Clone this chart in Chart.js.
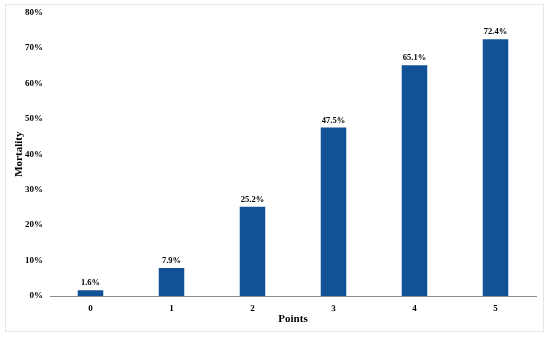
<!DOCTYPE html>
<html>
<head>
<meta charset="utf-8">
<script src="https://cdn.jsdelivr.net/npm/chart.js@4"></script>
<style>
html,body{margin:0;padding:0;background:#fff;}
#wrap{width:550px;height:337px;position:relative;}
</style>
</head>
<body>
<div id="wrap"><canvas id="c" width="550" height="337"></canvas></div>
<script>
const categories = ['0','1','2','3','4','5'];
const mortality = [1.6, 7.9, 25.2, 47.5, 65.1, 72.4];
const yTicks = [0,10,20,30,40,50,60,70,80];

const FONT = '"Liberation Serif", "Times New Roman", serif';

const borderPlugin = {
  id: 'frame',
  beforeDraw(chart){
    const ctx = chart.ctx;
    ctx.save();
    ctx.fillStyle = '#fff';
    ctx.fillRect(0,0,chart.width,chart.height);
    ctx.strokeStyle = '#e6e6e6';
    ctx.lineWidth = 1;
    ctx.strokeRect(5.5, 4.5, 538, 327);
    ctx.restore();
  }
};

const labelPlugin = {
  id: 'vals',
  afterDatasetsDraw(chart){
    const ctx = chart.ctx;
    const meta = chart.getDatasetMeta(0);
    ctx.save();
    ctx.font = 'bold 8.5px ' + FONT;
    ctx.fillStyle = '#000';
    ctx.textAlign = 'center';
    ctx.textBaseline = 'bottom';
    meta.data.forEach((bar, i) => {
      ctx.fillText(mortality[i].toFixed(1) + '%', bar.x, bar.y - 3);
    });
    ctx.restore();
  }
};

new Chart(document.getElementById('c'), {
  type: 'bar',
  data: {
    labels: categories,
    datasets: [{
      data: mortality,
      backgroundColor: '#115297',
      borderWidth: 0,
      barPercentage: 0.63,
      categoryPercentage: 0.5
    }]
  },
  options: {
    responsive: false,
    animation: false,
    devicePixelRatio: 1,
    layout: { padding: { left: 10, right: 14, top: 12, bottom: 0 } },
    plugins: { legend: { display: false }, tooltip: { enabled: false } },
    scales: {
      x: {
        grid: { display: false, drawTicks: false },
        border: { display: true, color: '#8c8c8c', width: 1 },
        ticks: { color: '#000', font: { family: FONT, size: 9, weight: 'bold' }, padding: 7 },
        title: { display: true, text: 'Points', color: '#000', font: { family: FONT, size: 11, weight: 'bold' }, padding: { top: 0, bottom: 11 } },
        afterFit(s){ s.height = 41; }
      },
      y: {
        min: 0, max: 80,
        grid: { display: false, drawTicks: false },
        border: { display: false },
        afterBuildTicks(s){ s.ticks = yTicks.map(v => ({ value: v })); },
        ticks: { color: '#000', font: { family: FONT, size: 9, weight: 'bold' }, padding: 7, callback: v => v + '%' },
        title: { display: true, text: 'Mortality', color: '#000', font: { family: FONT, size: 11, weight: 'bold' }, padding: { top: 3, bottom: 6 } },
        afterFit(s){ s.width = 40; }
      }
    }
  },
  plugins: [borderPlugin, labelPlugin]
});
</script>
</body>
</html>
